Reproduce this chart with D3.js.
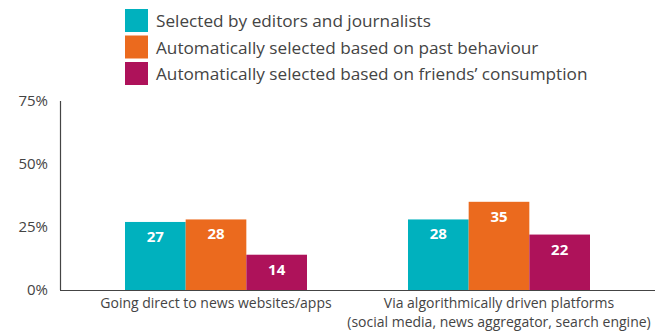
<!DOCTYPE html>
<html><head><meta charset="utf-8">
<script src="https://cdn.jsdelivr.net/npm/d3@7"></script>
<style>body{margin:0;background:#fff;} svg{display:block;font-family:"Open Sans", Lato, sans-serif;}</style>
</head><body>
<svg id="c" width="667" height="333"></svg>
<script>
const categories = [["Going direct to news websites/apps"], ["Via algorithmically driven platforms", "(social media, news aggregator, search engine)"]];
const seriesNames = ["Selected by editors and journalists", "Automatically selected based on past behaviour", "Automatically selected based on friends\u2019 consumption"];
const editors = [27, 28];
const pastBehaviour = [28, 35];
const friends = [14, 22];
const yTicks = [0, 25, 50, 75];
const colors = ["#00B1BE", "#EB6A1E", "#AE125A"];

const series = [editors, pastBehaviour, friends];
const svg = d3.select("#c");
const x0 = d3.scaleBand().domain(d3.range(categories.length)).range([74.5, 640.5]);
const x1 = d3.scaleBand().domain(d3.range(series.length)).range([50.5, 232.5]);
const y = d3.scaleLinear().domain([0, 75]).range([290, 101]);

// axes
svg.append("line").attr("x1", 60.5).attr("x2", 60.5).attr("y1", y(75)).attr("y2", y(0)).attr("stroke", "#444").attr("stroke-width", 1.2);
svg.append("line").attr("x1", 60).attr("x2", 655).attr("y1", y(0)+0.5).attr("y2", y(0)+0.5).attr("stroke", "#444").attr("stroke-width", 1.2);

svg.selectAll(".yt").data(yTicks).join("text")
  .attr("x", 48).attr("y", d => y(d)).attr("dy", "0.35em")
  .attr("text-anchor", "end").attr("font-size", 15).attr("fill", "#444")
  .text(d => d + "%");

categories.forEach((cat, i) => {
  const g = svg.append("g").attr("transform", `translate(${x0(i)},0)`);
  series.forEach((s, j) => {
    g.append("rect").attr("x", x1(j)).attr("width", x1.bandwidth())
      .attr("y", y(s[i])).attr("height", y(0) - y(s[i])).attr("fill", colors[j]);
    g.append("text").attr("x", x1(j) + x1.bandwidth()/2).attr("y", y(s[i]) + 20)
      .attr("text-anchor", "middle").attr("font-size", 15).attr("font-weight", "bold")
      .attr("fill", "#fff").text(s[i]);
  });
  cat.forEach((line, k) => {
    svg.append("text").attr("x", x0(i) + x0.bandwidth()/2).attr("y", 308 + k*19)
      .attr("text-anchor", "middle").attr("font-size", 14).attr("fill", "#444").text(line);
  });
});

// legend
seriesNames.forEach((n, j) => {
  const yy = 9 + j*26.5;
  svg.append("rect").attr("x", 125).attr("y", yy).attr("width", 23).attr("height", 23).attr("fill", colors[j]);
  svg.append("text").attr("x", 156).attr("y", yy + 12).attr("dy", "0.35em").attr("font-size", 17.2).attr("fill", "#444").text(n);
});
</script>
</body></html>
